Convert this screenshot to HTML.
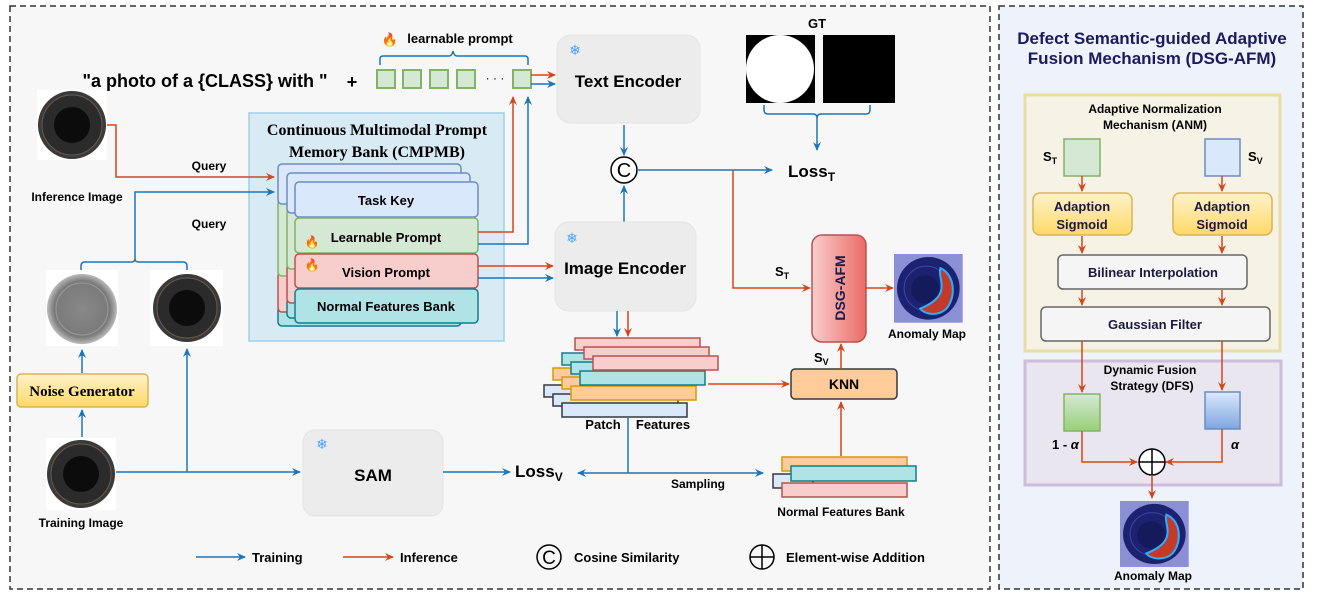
<!DOCTYPE html>
<html><head><meta charset="utf-8"><style>
html,body{margin:0;padding:0;background:#fff;}
svg{display:block;font-family:"Liberation Sans",Arial,sans-serif;}
.b{font-weight:bold;}
</style></head><body>
<svg width="1318" height="596" viewBox="0 0 1318 596" xmlns="http://www.w3.org/2000/svg">
<defs>
<marker id="ab" markerWidth="10" markerHeight="10" refX="8" refY="5" orient="auto" markerUnits="userSpaceOnUse"><path d="M0,1 L9,5 L0,9 L3,5 z" fill="#1a75bb"/></marker>
<marker id="ar" markerWidth="10" markerHeight="10" refX="8" refY="5" orient="auto" markerUnits="userSpaceOnUse"><path d="M0,1 L9,5 L0,9 L3,5 z" fill="#d4461c"/></marker>
<linearGradient id="gy" x1="0" y1="0" x2="0" y2="1"><stop offset="0" stop-color="#fff2cc"/><stop offset="1" stop-color="#ffd966"/></linearGradient>
<linearGradient id="gr" x1="0" y1="0" x2="1" y2="0"><stop offset="0" stop-color="#f8cecc"/><stop offset="1" stop-color="#ea6b66"/></linearGradient>
<linearGradient id="gg" x1="0" y1="0" x2="0" y2="1"><stop offset="0" stop-color="#d5e8d4"/><stop offset="1" stop-color="#97d077"/></linearGradient>
<linearGradient id="gb" x1="0" y1="0" x2="0" y2="1"><stop offset="0" stop-color="#dae8fc"/><stop offset="1" stop-color="#7ea6e0"/></linearGradient>
<radialGradient id="noise"><stop offset="0" stop-color="#888"/><stop offset="0.8" stop-color="#7a7a7a"/><stop offset="1" stop-color="#bbb"/></radialGradient>
<g id="photo"><circle cx="0" cy="0" r="34" fill="#3a3a3a"/><circle cx="0" cy="0" r="30" fill="#2b2b2b" stroke="#6b5a48" stroke-width="1"/><circle cx="0" cy="0" r="18" fill="#0c0c0c"/></g>
<g id="amap"><rect x="0" y="0" width="68" height="68" fill="#8a8fd6"/><circle cx="34" cy="34" r="31" fill="#1c2170"/><circle cx="32" cy="34" r="22" fill="none" stroke="#3a46a0" stroke-width="1"/><circle cx="31" cy="35" r="14" fill="#141a5a"/><path d="M46,14 C60,20 62,42 52,54 C44,62 30,60 26,54 C36,50 46,44 47,34 C48,26 44,20 46,14 z" fill="#c43a2a" stroke="#2ab0ff" stroke-width="2"/></g>
</defs>

<rect x="10" y="6" width="980" height="583" fill="#f7f7f7" stroke="#333" stroke-width="1.5" stroke-dasharray="6,4"/>
<rect x="999" y="6" width="304" height="583" fill="#eef3fb" stroke="#333" stroke-width="1.5" stroke-dasharray="6,4"/>

<text x="205" y="87" font-size="18" class="b" text-anchor="middle">"a photo of a {CLASS} with "</text>
<text x="352" y="88" font-size="18" class="b" text-anchor="middle">+</text>
<g fill="#d5e8d4" stroke="#82b366" stroke-width="2">
<rect x="377" y="70" width="18" height="18"/><rect x="403" y="70" width="18" height="18"/><rect x="430" y="70" width="18" height="18"/><rect x="457" y="70" width="18" height="18"/><rect x="513" y="70" width="18" height="18"/></g>
<text x="495" y="82" font-size="12" text-anchor="middle">· · ·</text>
<path d="M380,65 v-6 q0,-3 3,-3 h66 q3,0 4,-5 q1,5 4,5 h68 q3,0 3,3 v6" fill="none" stroke="#1a75bb" stroke-width="1.5"/>
<text x="390" y="44" font-size="13" text-anchor="middle">🔥</text>
<text x="460" y="43" font-size="13" class="b" text-anchor="middle">learnable prompt</text>
<line x1="531" y1="75" x2="555" y2="75" stroke="#d4461c" stroke-width="1.5" marker-end="url(#ar)"/>
<line x1="531" y1="84" x2="555" y2="84" stroke="#1a75bb" stroke-width="1.5" marker-end="url(#ab)"/>

<rect x="557" y="35" width="143" height="88" rx="14" fill="#ececec" stroke="#e4e4e4"/>
<text x="575" y="55" font-size="14" fill="#4aa3ff" text-anchor="middle">❄</text>
<text x="628" y="87" font-size="17" class="b" text-anchor="middle">Text Encoder</text>

<text x="817" y="28" font-size="13" class="b" text-anchor="middle">GT</text>
<rect x="746" y="35" width="69" height="68" fill="#000"/><circle cx="780" cy="69" r="34" fill="#fff"/>
<rect x="823" y="35" width="72" height="68" fill="#000"/>
<path d="M764,105 v5 q0,4 4,4 h45 q4,0 4,4 q0,-4 4,-4 h45 q4,0 4,-4 v-5" fill="none" stroke="#1a75bb" stroke-width="1.5"/>
<line x1="817" y1="118" x2="817" y2="150" stroke="#1a75bb" stroke-width="1.5" marker-end="url(#ab)"/>
<text x="788" y="177" font-size="17" class="b">Loss<tspan font-size="12" dy="4">T</tspan></text>

<line x1="624" y1="125" x2="624" y2="155" stroke="#1a75bb" stroke-width="1.5" marker-end="url(#ab)"/>
<line x1="624" y1="222" x2="624" y2="186" stroke="#1a75bb" stroke-width="1.5" marker-end="url(#ab)"/>
<circle cx="624" cy="170" r="13" fill="#fff" stroke="#000" stroke-width="1.5"/>
<text x="624" y="177" font-size="20" text-anchor="middle">C</text>
<line x1="637" y1="170" x2="772" y2="170" stroke="#1a75bb" stroke-width="1.5" marker-end="url(#ab)"/>
<polyline points="733,170 733,288 810,288" fill="none" stroke="#d4461c" stroke-width="1.5" marker-end="url(#ar)"/>
<text x="775" y="276" font-size="13" class="b">S<tspan font-size="9" dy="3">T</tspan></text>

<rect x="555" y="222" width="141" height="89" rx="14" fill="#ececec" stroke="#e4e4e4"/>
<text x="572" y="243" font-size="14" fill="#4aa3ff" text-anchor="middle">❄</text>
<text x="625" y="274" font-size="17" class="b" text-anchor="middle">Image Encoder</text>

<rect x="249" y="113" width="255" height="228" fill="#d8eaf4" stroke="#9fcfe4" stroke-width="1.5"/>
<text x="377" y="135" font-size="16" class="b" text-anchor="middle" font-family="Liberation Serif,serif">Continuous Multimodal Prompt</text>
<text x="377" y="157" font-size="16" class="b" text-anchor="middle" font-family="Liberation Serif,serif">Memory Bank (CMPMB)</text>
<g stroke-width="1.5">
<rect x="278" y="306" width="183" height="20" rx="4" fill="#b0e3e6" stroke="#0e8088"/>
<rect x="278" y="272" width="183" height="40" rx="4" fill="#f8cecc" stroke="#b85450"/>
<rect x="278" y="200" width="183" height="76" rx="4" fill="#d5e8d4" stroke="#82b366"/>
<rect x="278" y="164" width="183" height="40" rx="4" fill="#dae8fc" stroke="#6c8ebf"/>
<rect x="287" y="298" width="183" height="20" rx="4" fill="#b0e3e6" stroke="#0e8088"/>
<rect x="287" y="263" width="183" height="40" rx="4" fill="#f8cecc" stroke="#b85450"/>
<rect x="287" y="209" width="183" height="60" rx="4" fill="#d5e8d4" stroke="#82b366"/>
<rect x="287" y="173" width="183" height="40" rx="4" fill="#dae8fc" stroke="#6c8ebf"/>
<rect x="295" y="182" width="183" height="35" rx="4" fill="#dae8fc" stroke="#6c8ebf"/>
<rect x="295" y="218" width="183" height="35" rx="4" fill="#d5e8d4" stroke="#82b366"/>
<rect x="295" y="254" width="183" height="34" rx="4" fill="#f8cecc" stroke="#b85450"/>
<rect x="295" y="289" width="183" height="34" rx="4" fill="#b0e3e6" stroke="#0e8088"/>
</g>
<text x="386" y="205" font-size="13" class="b" text-anchor="middle">Task Key</text>
<text x="386" y="242" font-size="13" class="b" text-anchor="middle">Learnable Prompt</text>
<text x="312" y="246" font-size="12" text-anchor="middle">🔥</text>
<text x="386" y="277" font-size="13" class="b" text-anchor="middle">Vision Prompt</text>
<text x="312" y="269" font-size="12" text-anchor="middle">🔥</text>
<text x="386" y="311" font-size="13" class="b" text-anchor="middle">Normal Features Bank</text>
<polyline points="478,232 513,232 513,97" fill="none" stroke="#d4461c" stroke-width="1.5" marker-end="url(#ar)"/>
<polyline points="478,244 528,244 528,97" fill="none" stroke="#1a75bb" stroke-width="1.5" marker-end="url(#ab)"/>
<line x1="478" y1="266" x2="553" y2="266" stroke="#d4461c" stroke-width="1.5" marker-end="url(#ar)"/>
<line x1="478" y1="278" x2="553" y2="278" stroke="#1a75bb" stroke-width="1.5" marker-end="url(#ab)"/>

<rect x="37" y="90" width="70" height="70" fill="#fff"/>
<use href="#photo" transform="translate(72,125)"/>
<text x="77" y="201" font-size="12" class="b" text-anchor="middle">Inference Image</text>
<polyline points="107,125 116,125 116,177 274,177" fill="none" stroke="#d4461c" stroke-width="1.5" marker-end="url(#ar)"/>
<text x="209" y="170" font-size="12" class="b" text-anchor="middle">Query</text>
<polyline points="135,260 135,192 274,192" fill="none" stroke="#1a75bb" stroke-width="1.5" marker-end="url(#ab)"/>
<text x="209" y="228" font-size="12" class="b" text-anchor="middle">Query</text>
<path d="M81,272 v-6 q0,-4 4,-4 h46 q4,0 4,-3 q0,3 4,3 h44 q4,0 4,4 v6" fill="none" stroke="#1a75bb" stroke-width="1.5"/>
<rect x="46" y="270" width="72" height="76" fill="#fff"/>
<circle cx="82" cy="309" r="35" fill="url(#noise)"/><circle cx="82" cy="309" r="26" fill="none" stroke="#999" stroke-width="1"/>
<rect x="150" y="270" width="73" height="76" fill="#fff"/>
<use href="#photo" transform="translate(187,308)"/>
<line x1="82" y1="373" x2="82" y2="350" stroke="#1a75bb" stroke-width="1.5" marker-end="url(#ab)"/>
<rect x="17" y="374" width="131" height="33" rx="4" fill="url(#gy)" stroke="#d6b656" stroke-width="1.5"/>
<text x="82" y="396" font-size="15" class="b" text-anchor="middle" font-family="Liberation Serif,serif">Noise Generator</text>
<line x1="82" y1="437" x2="82" y2="410" stroke="#1a75bb" stroke-width="1.5" marker-end="url(#ab)"/>
<rect x="46" y="438" width="70" height="72" fill="#fff"/>
<use href="#photo" transform="translate(81,474)"/>
<text x="81" y="527" font-size="12" class="b" text-anchor="middle">Training Image</text>
<line x1="116" y1="472" x2="300" y2="472" stroke="#1a75bb" stroke-width="1.5" marker-end="url(#ab)"/>
<line x1="187" y1="472" x2="187" y2="349" stroke="#1a75bb" stroke-width="1.5" marker-end="url(#ab)"/>

<rect x="303" y="430" width="140" height="86" rx="12" fill="#ececec" stroke="#e4e4e4"/>
<text x="322" y="449" font-size="14" fill="#4aa3ff" text-anchor="middle">❄</text>
<text x="373" y="481" font-size="17" class="b" text-anchor="middle">SAM</text>
<line x1="443" y1="472" x2="510" y2="472" stroke="#1a75bb" stroke-width="1.5" marker-end="url(#ab)"/>
<text x="515" y="477" font-size="17" class="b">Loss<tspan font-size="12" dy="4">V</tspan></text>

<line x1="617" y1="311" x2="617" y2="336" stroke="#1a75bb" stroke-width="1.5" marker-end="url(#ab)"/>
<line x1="628" y1="311" x2="628" y2="336" stroke="#d4461c" stroke-width="1.5" marker-end="url(#ar)"/>
<g stroke-width="1.5">
<g fill="#dae8fc" stroke="#36393d"><rect x="544" y="385" width="125" height="12"/><rect x="553" y="394" width="125" height="12"/><rect x="562" y="403" width="125" height="14"/></g>
<g fill="#ffcc99" stroke="#d79b00"><rect x="553" y="368" width="125" height="12"/><rect x="562" y="377" width="125" height="12"/><rect x="571" y="386" width="125" height="14"/></g>
<g fill="#b0e3e6" stroke="#0e8088"><rect x="562" y="353" width="125" height="12"/><rect x="571" y="362" width="125" height="12"/><rect x="580" y="371" width="125" height="14"/></g>
<g fill="#f8cecc" stroke="#b85450"><rect x="575" y="338" width="125" height="12"/><rect x="584" y="347" width="125" height="12"/><rect x="593" y="356" width="125" height="14"/></g>
</g>
<text x="603" y="429" font-size="13" class="b" text-anchor="middle">Patch</text>
<text x="663" y="429" font-size="13" class="b" text-anchor="middle">Features</text>
<polyline points="628,418 628,473" fill="none" stroke="#1a75bb" stroke-width="1.5"/>
<line x1="628" y1="473" x2="578" y2="473" stroke="#1a75bb" stroke-width="1.5" marker-end="url(#ab)"/>
<line x1="628" y1="473" x2="763" y2="473" stroke="#1a75bb" stroke-width="1.5" marker-end="url(#ab)"/>
<text x="698" y="488" font-size="12" class="b" text-anchor="middle">Sampling</text>
<line x1="708" y1="384" x2="789" y2="384" stroke="#d4461c" stroke-width="1.5" marker-end="url(#ar)"/>

<rect x="791" y="369" width="106" height="30" rx="4" fill="#ffcc99" stroke="#36393d" stroke-width="1.5"/>
<text x="844" y="389" font-size="14" class="b" text-anchor="middle">KNN</text>
<line x1="841" y1="369" x2="841" y2="344" stroke="#d4461c" stroke-width="1.5" marker-end="url(#ar)"/>
<text x="814" y="362" font-size="13" class="b">S<tspan font-size="9" dy="3">V</tspan></text>
<rect x="812" y="235" width="54" height="107" rx="10" fill="url(#gr)" stroke="#b85450" stroke-width="1.5"/>
<text transform="translate(845,288) rotate(-90)" font-size="14" class="b" text-anchor="middle" fill="#1a1a4e">DSG-AFM</text>
<line x1="866" y1="288" x2="893" y2="288" stroke="#d4461c" stroke-width="1.5" marker-end="url(#ar)"/>
<use href="#amap" transform="translate(894,254) scale(1.01,1.01)"/>
<text x="927" y="338" font-size="12" class="b" text-anchor="middle">Anomaly Map</text>

<line x1="841" y1="456" x2="841" y2="402" stroke="#d4461c" stroke-width="1.5" marker-end="url(#ar)"/>
<g stroke-width="1.5">
<rect x="773" y="474" width="40" height="14" fill="#dae8fc" stroke="#36393d"/>
<rect x="782" y="457" width="125" height="14" fill="#ffcc99" stroke="#d79b00"/>
<rect x="782" y="483" width="125" height="14" fill="#f8cecc" stroke="#b85450"/>
<rect x="791" y="466" width="125" height="15" fill="#b0e3e6" stroke="#0e8088"/>
</g>
<text x="841" y="516" font-size="12" class="b" text-anchor="middle">Normal Features Bank</text>

<line x1="196" y1="557" x2="245" y2="557" stroke="#1a75bb" stroke-width="1.5" marker-end="url(#ab)"/>
<text x="252" y="562" font-size="13" class="b">Training</text>
<line x1="343" y1="557" x2="393" y2="557" stroke="#d4461c" stroke-width="1.5" marker-end="url(#ar)"/>
<text x="400" y="562" font-size="13" class="b">Inference</text>
<circle cx="549" cy="557" r="12" fill="none" stroke="#000" stroke-width="1.5"/>
<text x="549" y="564" font-size="19" text-anchor="middle">C</text>
<text x="574" y="562" font-size="13" class="b">Cosine Similarity</text>
<circle cx="762" cy="557" r="12" fill="none" stroke="#000" stroke-width="1.5"/>
<line x1="750" y1="557" x2="774" y2="557" stroke="#000" stroke-width="1.5"/><line x1="762" y1="545" x2="762" y2="569" stroke="#000" stroke-width="1.5"/>
<text x="786" y="562" font-size="13" class="b">Element-wise Addition</text>

<text x="1152" y="44" font-size="17" class="b" text-anchor="middle" fill="#1a1a5e">Defect Semantic-guided Adaptive</text>
<text x="1152" y="64" font-size="17" class="b" text-anchor="middle" fill="#1a1a5e">Fusion Mechanism (DSG-AFM)</text>
<rect x="1025" y="95" width="255" height="256" fill="#f6f3e6" stroke="#e8dca8" stroke-width="3"/>
<text x="1155" y="113" font-size="12" class="b" text-anchor="middle">Adaptive Normalization</text>
<text x="1155" y="129" font-size="12" class="b" text-anchor="middle">Mechanism (ANM)</text>
<rect x="1064" y="139" width="36" height="37" fill="#d5e8d4" stroke="#82b366" stroke-width="1.5"/>
<rect x="1205" y="139" width="35" height="37" fill="#dae8fc" stroke="#6c8ebf" stroke-width="1.5"/>
<text x="1043" y="161" font-size="13" class="b">S<tspan font-size="9" dy="3">T</tspan></text>
<text x="1248" y="161" font-size="13" class="b">S<tspan font-size="9" dy="3">V</tspan></text>
<line x1="1082" y1="176" x2="1082" y2="191" stroke="#d4461c" stroke-width="1.5" marker-end="url(#ar)"/>
<line x1="1222" y1="176" x2="1222" y2="191" stroke="#d4461c" stroke-width="1.5" marker-end="url(#ar)"/>
<rect x="1033" y="193" width="99" height="42" rx="7" fill="url(#gy)" stroke="#d6b656" stroke-width="1.5"/>
<rect x="1173" y="193" width="99" height="42" rx="7" fill="url(#gy)" stroke="#d6b656" stroke-width="1.5"/>
<text x="1082" y="211" font-size="13" class="b" text-anchor="middle" fill="#1a1a3e">Adaption</text>
<text x="1082" y="229" font-size="13" class="b" text-anchor="middle" fill="#1a1a3e">Sigmoid</text>
<text x="1222" y="211" font-size="13" class="b" text-anchor="middle" fill="#1a1a3e">Adaption</text>
<text x="1222" y="229" font-size="13" class="b" text-anchor="middle" fill="#1a1a3e">Sigmoid</text>
<line x1="1082" y1="236" x2="1082" y2="253" stroke="#d4461c" stroke-width="1.5" marker-end="url(#ar)"/>
<line x1="1222" y1="236" x2="1222" y2="253" stroke="#d4461c" stroke-width="1.5" marker-end="url(#ar)"/>
<rect x="1058" y="255" width="189" height="34" rx="5" fill="#f5f5f5" stroke="#666" stroke-width="1.5"/>
<text x="1153" y="277" font-size="13" class="b" text-anchor="middle" fill="#1a1a3e">Bilinear Interpolation</text>
<line x1="1082" y1="290" x2="1082" y2="305" stroke="#d4461c" stroke-width="1.5" marker-end="url(#ar)"/>
<line x1="1222" y1="290" x2="1222" y2="305" stroke="#d4461c" stroke-width="1.5" marker-end="url(#ar)"/>
<rect x="1041" y="307" width="229" height="34" rx="5" fill="#f5f5f5" stroke="#666" stroke-width="1.5"/>
<text x="1155" y="329" font-size="13" class="b" text-anchor="middle" fill="#1a1a3e">Gaussian Filter</text>
<rect x="1025" y="361" width="256" height="124" fill="#e9e6f0" stroke="#cdbcdc" stroke-width="3"/>
<text x="1150" y="374" font-size="12" class="b" text-anchor="middle">Dynamic Fusion</text>
<text x="1152" y="390" font-size="12" class="b" text-anchor="middle">Strategy (DFS)</text>
<line x1="1082" y1="341" x2="1082" y2="392" stroke="#d4461c" stroke-width="1.5" marker-end="url(#ar)"/>
<line x1="1222" y1="341" x2="1222" y2="390" stroke="#d4461c" stroke-width="1.5" marker-end="url(#ar)"/>
<rect x="1064" y="394" width="36" height="37" fill="url(#gg)" stroke="#82b366" stroke-width="1.5"/>
<rect x="1205" y="392" width="35" height="37" fill="url(#gb)" stroke="#6c8ebf" stroke-width="1.5"/>
<text x="1052" y="449" font-size="13" class="b">1 - <tspan font-style="italic">α</tspan></text>
<text x="1231" y="449" font-size="13" class="b" font-style="italic">α</text>
<polyline points="1082,431 1082,462 1137,462" fill="none" stroke="#d4461c" stroke-width="1.5" marker-end="url(#ar)"/>
<polyline points="1222,429 1222,462 1166,462" fill="none" stroke="#d4461c" stroke-width="1.5" marker-end="url(#ar)"/>
<circle cx="1152" cy="462" r="13" fill="#fff" stroke="#000" stroke-width="1.5"/>
<line x1="1139" y1="462" x2="1165" y2="462" stroke="#000" stroke-width="1.5"/><line x1="1152" y1="449" x2="1152" y2="475" stroke="#000" stroke-width="1.5"/>
<line x1="1152" y1="475" x2="1152" y2="498" stroke="#d4461c" stroke-width="1.5" marker-end="url(#ar)"/>
<use href="#amap" transform="translate(1120,501) scale(1.01,0.97)"/>
<text x="1153" y="580" font-size="12" class="b" text-anchor="middle">Anomaly Map</text>
</svg>
</body></html>
